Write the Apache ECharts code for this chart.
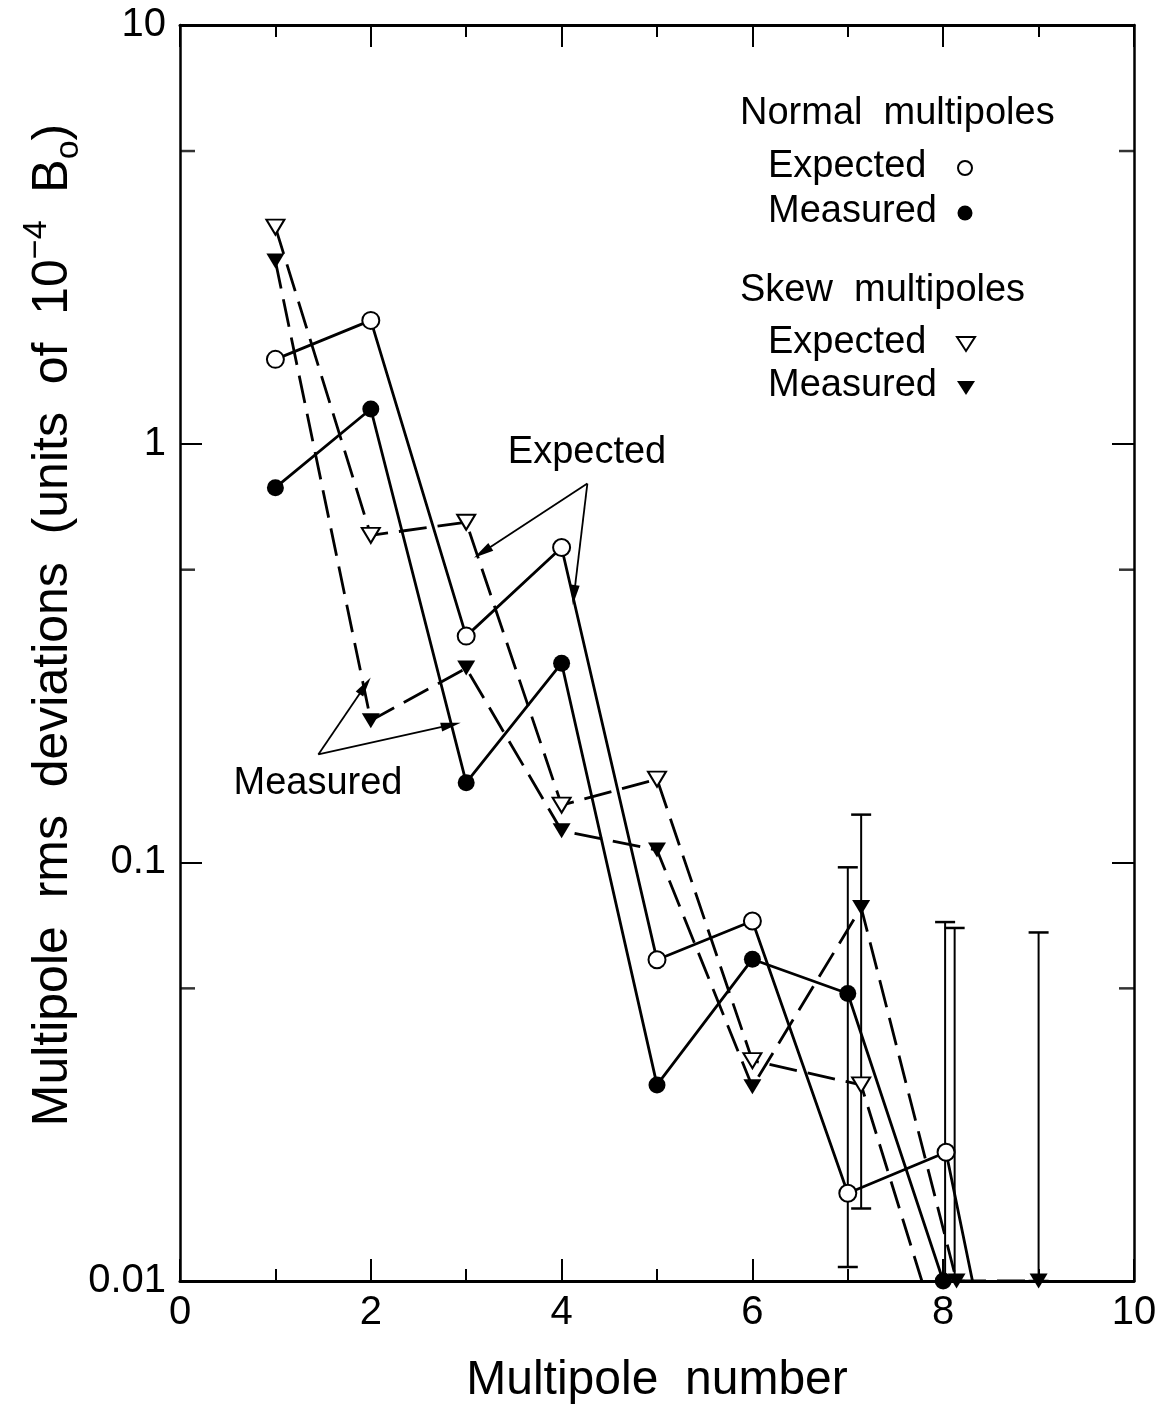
<!DOCTYPE html>
<html><head><meta charset="utf-8">
<script src="https://cdn.jsdelivr.net/npm/echarts@6/dist/echarts.min.js"></script>
<style>html,body{margin:0;padding:0;background:#fff;overflow:hidden;width:1161px;height:1410px}#chart{width:1161px;height:1410px}</style>
</head><body><div id="chart"></div>
<script>
// ---- data ----
const xTickLabels = ['0', '2', '4', '6', '8', '10'];
const yTickLabels = ['0.01', '0.1', '1', '10'];
const yMinorTicks = [0.05, 0.5, 5];

const normalExpectedX = [1, 2, 3, 4, 5, 6, 7, 8.03, 9];
const normalExpected  = [1.59, 1.97, 0.347, 0.565, 0.0585, 0.0724, 0.0162, 0.0203, 0.0017];
const normalMeasuredX = [1, 2, 3, 4, 5, 6, 7, 8];
const normalMeasured  = [0.785, 1.21, 0.155, 0.299, 0.0294, 0.0587, 0.0486, 0.01];
const skewExpectedX   = [1, 2, 3, 4, 5, 6, 7.14, 8.14];
const skewExpected    = [3.29, 0.604, 0.649, 0.137, 0.158, 0.0336, 0.0294, 0.0054];
const skewMeasuredX   = [1, 2, 3, 4, 5, 6, 7.14, 8.14, 9];
const skewMeasured    = [2.73, 0.218, 0.291, 0.119, 0.107, 0.0291, 0.078, 0.01, 0.01];

const errX    = [7.0, 7.14, 8.02, 8.12, 9.0];
const errLow  = [0.0108, 0.0149, 0.01, 0.01, 0.01];
const errHigh = [0.0973, 0.130, 0.072, 0.0697, 0.068];

const expectedArrowFrom = [4.27, 0.803];
const expectedArrowTo   = [[3.17, 0.55], [4.13, 0.435]];
const measuredArrowFrom = [1.45, 0.181];
const measuredArrowTo   = [[1.94, 0.264], [2.84, 0.213]];

// ---- chart ----
const FONT = '"Liberation Sans", Arial, Helvetica, sans-serif';
const pairs = (xs, ys) => xs.map((x, i) => [x, ys[i]]);
const chart = echarts.init(document.getElementById('chart'), null, { width: 1161, height: 1410 });

const tickStyle = { color: '#000', width: 2 };
const xAxisBase = {
  type: 'value', min: 0, max: 10, interval: 2,
  axisLine: { show: true, onZero: false, lineStyle: { color: '#000', width: 3 } },
  axisTick: { show: true, inside: true, length: 22, lineStyle: tickStyle },
  minorTick: { show: true, splitNumber: 2, length: 12, lineStyle: tickStyle },
  splitLine: { show: false }, minorSplitLine: { show: false }
};
const yAxisBase = {
  type: 'log', min: 0.01, max: 10, logBase: 10,
  axisLine: { show: true, onZero: false, lineStyle: { color: '#000', width: 2.5 } },
  axisTick: { show: true, inside: true, length: 22, lineStyle: tickStyle },
  minorTick: { show: false },
  splitLine: { show: false }, minorSplitLine: { show: false }
};
const arrowLines = (from, tos) => tos.map(t => [{ coord: from }, { coord: t }]);
const DASH = [28, 11];

const option = {
  animation: false,
  backgroundColor: '#fff',
  grid: { left: 180, right: 27, top: 25, bottom: 125, containLabel: false },
  xAxis: [
    Object.assign({}, xAxisBase, {
      position: 'bottom',
      axisLabel: { show: true, fontFamily: FONT, fontSize: 40, color: '#000', margin: 12,
        formatter: v => xTickLabels[Math.round(v / 2)] },
      name: 'Multipole  number', nameLocation: 'middle', nameGap: 76,
      nameTextStyle: { fontFamily: FONT, fontSize: 48, color: '#000' }
    }),
    Object.assign({}, xAxisBase, { position: 'top', axisLabel: { show: false } })
  ],
  yAxis: [
    Object.assign({}, yAxisBase, {
      position: 'left',
      axisLabel: { show: true, fontFamily: FONT, fontSize: 40, color: '#000', margin: 14,
        formatter: v => yTickLabels[Math.round(Math.log10(v)) + 2] }
    }),
    Object.assign({}, yAxisBase, { position: 'right', axisLabel: { show: false } })
  ],
  series: [
    { type: 'line', name: 'Normal expected', data: pairs(normalExpectedX, normalExpected),
      symbol: 'circle', symbolSize: 17, clip: true, z: 4,
      lineStyle: { color: '#000', width: 2.8, type: 'solid' },
      itemStyle: { color: '#fff', borderColor: '#000', borderWidth: 2 } },
    { type: 'line', name: 'Normal measured', data: pairs(normalMeasuredX, normalMeasured),
      symbol: 'circle', symbolSize: 17, clip: false, z: 4,
      lineStyle: { color: '#000', width: 2.8, type: 'solid' },
      itemStyle: { color: '#000', borderColor: '#000', borderWidth: 0 } },
    { type: 'line', name: 'Skew expected', data: pairs(skewExpectedX, skewExpected),
      symbol: 'triangle', symbolRotate: 180, symbolSize: [18, 15], clip: true, z: 4,
      lineStyle: { color: '#000', width: 2.8, type: DASH },
      itemStyle: { color: '#fff', borderColor: '#000', borderWidth: 2 } },
    { type: 'line', name: 'Skew measured', data: pairs(skewMeasuredX, skewMeasured),
      symbol: 'triangle', symbolRotate: 180, symbolSize: [18, 15], clip: false, z: 4,
      lineStyle: { color: '#000', width: 2.8, type: DASH },
      itemStyle: { color: '#000', borderColor: '#000', borderWidth: 0 } },
    { type: 'custom', name: 'Error bars', clip: false, z: 3,
      data: errX.map((x, i) => [x, errLow[i], errHigh[i]]),
      encode: { x: 0, y: [1, 2] },
      renderItem: (params, api) => {
        const x = api.value(0);
        const lo = api.coord([x, api.value(1)]);
        const hi = api.coord([x, api.value(2)]);
        const hw = 10;
        const st = { stroke: '#000', lineWidth: 2 };
        return { type: 'group', children: [
          { type: 'line', shape: { x1: lo[0], y1: lo[1], x2: hi[0], y2: hi[1] }, style: st },
          { type: 'line', shape: { x1: hi[0] - hw, y1: hi[1], x2: hi[0] + hw, y2: hi[1] }, style: { stroke: '#000', lineWidth: 2.5 } },
          { type: 'line', shape: { x1: lo[0] - hw, y1: lo[1], x2: lo[0] + hw, y2: lo[1] }, style: { stroke: '#000', lineWidth: 2.5 } }
        ] };
      } },
    { type: 'scatter', name: 'minor ticks left', silent: true, clip: false, z: 5,
      data: yMinorTicks.map(v => [0, v]), symbol: 'rect', symbolSize: [15, 2.5], symbolOffset: [7.5, 0],
      itemStyle: { color: '#000' } },
    { type: 'scatter', name: 'minor ticks right', silent: true, clip: false, z: 5,
      data: yMinorTicks.map(v => [10, v]), symbol: 'rect', symbolSize: [15, 2.5], symbolOffset: [-7.5, 0],
      itemStyle: { color: '#000' } },
    { type: 'line', name: 'annotations', data: [], silent: true,
      markLine: {
        silent: true, animation: false,
        symbol: ['none', 'triangle'], symbolSize: [9, 20],
        label: { show: false },
        lineStyle: { color: '#000', width: 1.8, type: 'solid' },
        itemStyle: { color: '#000' },
        data: arrowLines(expectedArrowFrom, expectedArrowTo).concat(arrowLines(measuredArrowFrom, measuredArrowTo))
      } }
  ],
  graphic: [
    { type: 'text', x: 53, y: 625, rotation: Math.PI / 2,
      style: { text: 'Multipole  rms  deviations  (units  of  10{sup|\u22124}  B{sub|o})',
        font: '50px ' + FONT, fill: '#000', textAlign: 'center', textVerticalAlign: 'middle',
        align: 'center', verticalAlign: 'middle', lineHeight: 66,
        rich: {
          sup: { fontSize: 34, fontFamily: FONT, lineHeight: 34, verticalAlign: 'top', fill: '#000' },
          sub: { fontSize: 34, fontFamily: FONT, lineHeight: 34, verticalAlign: 'bottom', fill: '#000' }
        } } },
    { type: 'text', x: 740, y: 114, style: { text: 'Normal  multipoles', font: '38px ' + FONT, fill: '#000', textAlign: 'left', align: 'left', textVerticalAlign: 'middle', verticalAlign: 'middle' } },
    { type: 'text', x: 768, y: 167, style: { text: 'Expected', font: '38px ' + FONT, fill: '#000', textAlign: 'left', align: 'left', textVerticalAlign: 'middle', verticalAlign: 'middle' } },
    { type: 'text', x: 768, y: 212, style: { text: 'Measured', font: '38px ' + FONT, fill: '#000', textAlign: 'left', align: 'left', textVerticalAlign: 'middle', verticalAlign: 'middle' } },
    { type: 'text', x: 740, y: 291, style: { text: 'Skew  multipoles', font: '38px ' + FONT, fill: '#000', textAlign: 'left', align: 'left', textVerticalAlign: 'middle', verticalAlign: 'middle' } },
    { type: 'text', x: 768, y: 343, style: { text: 'Expected', font: '38px ' + FONT, fill: '#000', textAlign: 'left', align: 'left', textVerticalAlign: 'middle', verticalAlign: 'middle' } },
    { type: 'text', x: 768, y: 386, style: { text: 'Measured', font: '38px ' + FONT, fill: '#000', textAlign: 'left', align: 'left', textVerticalAlign: 'middle', verticalAlign: 'middle' } },
    { type: 'circle', shape: { cx: 965, cy: 168, r: 7 }, style: { fill: '#fff', stroke: '#000', lineWidth: 2 } },
    { type: 'circle', shape: { cx: 965, cy: 213, r: 7.5 }, style: { fill: '#000' } },
    { type: 'polygon', shape: { points: [[957, 337], [975, 337], [966, 351]] }, style: { fill: '#fff', stroke: '#000', lineWidth: 2 } },
    { type: 'polygon', shape: { points: [[957, 381], [975, 381], [966, 395]] }, style: { fill: '#000' } },
    { type: 'text', x: 587, y: 453, style: { text: 'Expected', font: '38px ' + FONT, fill: '#000', textAlign: 'center', align: 'center', textVerticalAlign: 'middle', verticalAlign: 'middle' } },
    { type: 'text', x: 318, y: 784, style: { text: 'Measured', font: '38px ' + FONT, fill: '#000', textAlign: 'center', align: 'center', textVerticalAlign: 'middle', verticalAlign: 'middle' } }
  ]
};
chart.setOption(option);
</script>
</body></html>
